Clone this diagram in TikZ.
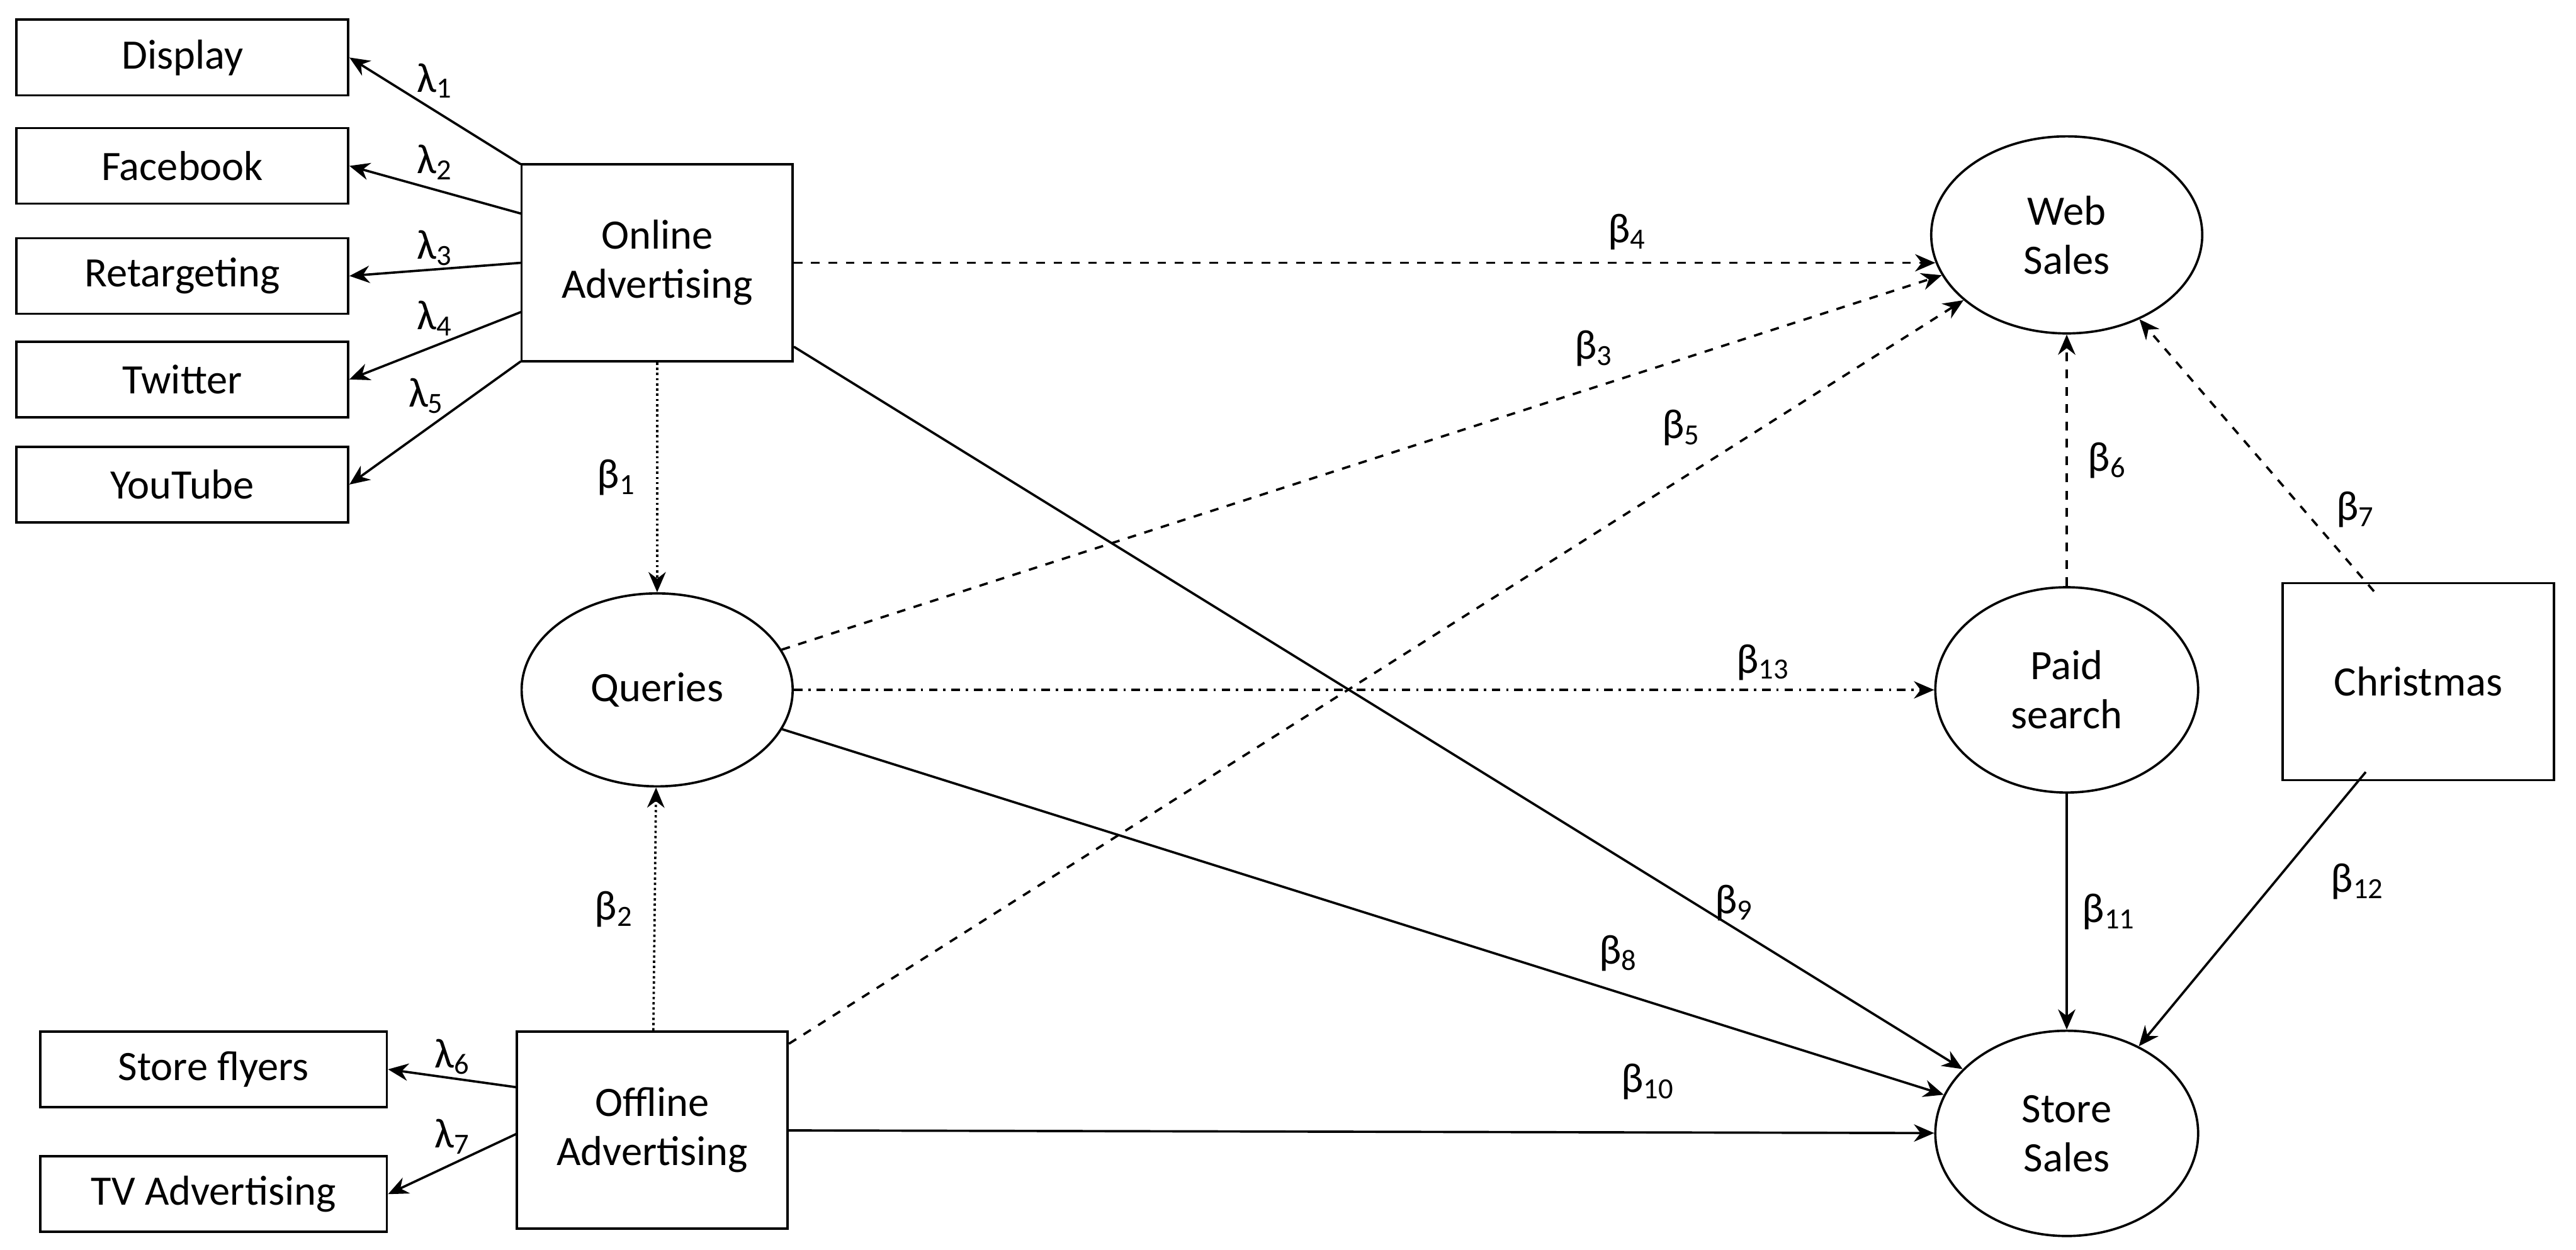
\documentclass[tikz,border=0pt]{standalone}
\usepackage{fontspec}
\setmainfont{Carlito}
\usetikzlibrary{arrows.meta,shapes.geometric}
\begin{document}
\begin{tikzpicture}[x=0.02cm,y=-0.02cm,
  every node/.style={font=\fontsize{14.5}{17}\selectfont},
  box/.style={draw,thick,rectangle,minimum width=4.04cm,minimum height=0.92cm,inner sep=0pt},
  big/.style={draw,thick,rectangle,minimum width=3.3cm,minimum height=2.4cm,align=center,inner sep=0pt},
  ell/.style={draw,thick,ellipse,minimum width=3.2cm,minimum height=2.5cm,align=center,inner sep=0pt},
  arr/.style={thick,-{Stealth[length=7pt,width=6pt]}},
  lbl/.style={inner sep=1pt}]
\useasboundingbox (0,0) rectangle (1568,761);
% indicator boxes
\node[box] (disp) at (111,35) {Display};
\node[box] (face) at (111,101) {Facebook};
\node[box] (retg) at (111,168) {Retargeting};
\node[box] (twit) at (111,231) {Twitter};
\node[box] (yout) at (111,295) {YouTube};
\node[box,minimum width=4.22cm] (flyr) at (130,651) {Store flyers};
\node[box,minimum width=4.22cm] (tvad) at (130,727) {TV Advertising};
% constructs
\node[big] (onl) at (400,160) {Online\\Advertising};
\node[big] (off) at (397,688) {Offline\\Advertising};
\node[big] (xmas) at (1472,415) {Christmas};
\node[ell,minimum width=3.3cm,minimum height=2.35cm] (qry) at (400,420) {Queries};
\node[ell,minimum width=3.3cm,minimum height=2.4cm] (web) at (1258,143) {Web\\Sales};
\node[ell] (paid) at (1258,420) {Paid\\search};
\node[ell] (store) at (1258,690) {Store\\Sales};
% loadings
\coordinate (o1) at (317,100); \coordinate (o2) at (317,130);
\coordinate (o3) at (317,160); \coordinate (o4) at (317,190);
\coordinate (o5) at (317,220);
\draw[arr] (o1) -- (disp.east) node[lbl,pos=0.5,above=3pt] {λ\textsubscript{1}};
\draw[arr] (o2) -- (face.east) node[lbl,pos=0.5,above=2pt] {λ\textsubscript{2}};
\draw[arr] (o3) -- (retg.east) node[lbl,pos=0.5,above] {λ\textsubscript{3}};
\draw[arr] (o4) -- (twit.east) node[lbl,pos=0.5,above=2pt] {λ\textsubscript{4}};
\draw[arr] (o5) -- (yout.east) node[lbl,pos=0.55,above=4pt] {λ\textsubscript{5}};
\coordinate (f1) at (315,662); \coordinate (f2) at (315,690);
\draw[arr] (f1) -- (flyr.east) node[lbl,pos=0.5,above] {λ\textsubscript{6}};
\draw[arr] (f2) -- (tvad.east) node[lbl,pos=0.5,above=2pt] {λ\textsubscript{7}};
% paths
\coordinate (w4) at (1178,160);
\draw[arr,densely dotted] (onl) -- (qry) node[lbl,pos=0.5,left=6pt] {β\textsubscript{1}};
\draw[arr,densely dotted] (off) -- (qry) node[lbl,pos=0.5,left=6pt] {β\textsubscript{2}};
\draw[arr,dashed] (onl.east) -- (w4) node[lbl,pos=0.73,above=3pt] {β\textsubscript{4}};
\draw[arr,dashed] (qry) -- (web) node[lbl,pos=0.7,above=6pt] {β\textsubscript{3}};
\draw[arr,dashed] (off) -- (web) node[lbl,pos=0.76,above=10pt] {β\textsubscript{5}};
\draw[arr,dashed] (paid) -- (web) node[lbl,pos=0.5,right=6pt] {β\textsubscript{6}};
\coordinate (xn) at (1445,360);
\coordinate (xs) at (1440,470);
\draw[arr,dashed] (xn) -- (web) node[lbl,pos=0.3,right=10pt] {β\textsubscript{7}};
\draw[arr,dash dot] (qry) -- (paid) node[lbl,pos=0.85,above=2pt] {β\textsubscript{13}};
\draw[arr] (onl) -- (store) node[lbl,pos=0.77,right=6pt] {β\textsubscript{9}};
\draw[arr] (qry) -- (store) node[lbl,pos=0.72,above=6pt] {β\textsubscript{8}};
\draw[arr] (off) -- (store) node[lbl,pos=0.75,above=10pt] {β\textsubscript{10}};
\draw[arr] (paid) -- (store) node[lbl,pos=0.5,right=4pt] {β\textsubscript{11}};
\draw[arr] (xs) -- (store) node[lbl,pos=0.4,right=18pt] {β\textsubscript{12}};
\end{tikzpicture}
\end{document}
